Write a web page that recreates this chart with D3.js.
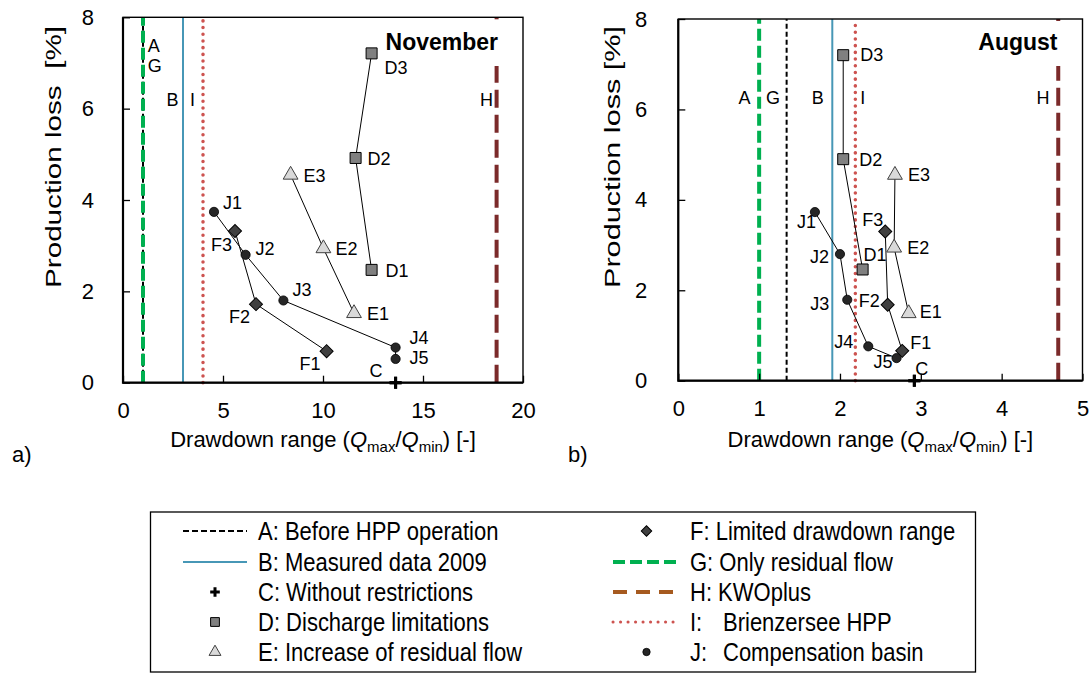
<!DOCTYPE html>
<head>
    <meta charset="utf-8">
    <title>Production loss vs drawdown range</title>
    <script src="https://d3js.org/d3.v7.min.js"></script>
    <style>
        body{ margin: 0; background: #fff; }
        text{ font-family: "Liberation Sans", Arial, sans-serif; fill: #000; }
        .tick text{ font-size: 22px; }
        .tick line{ stroke: #000; stroke-width: 1.3; }
        path.domain{ display: none; }
        text.ptLabel, text.lineLabel{ font-size: 18px; }
        text.panelTitle{ font-size: 23px; font-weight: 700; }
        text.axisTitle, text.legendText, text.tag{ font-size: 22px; }
    </style>
</head>
<body>
<script>
    // November (a)
    const novD = [{id:'D1', x:12.43, y:2.47}, {id:'D2', x:11.63, y:4.92}, {id:'D3', x:12.43, y:7.21}];
    const novE = [{id:'E1', x:11.55, y:1.52}, {id:'E2', x:10.02, y:2.94}, {id:'E3', x:8.38, y:4.55}];
    const novF = [{id:'F1', x:10.18, y:0.69}, {id:'F2', x:6.65, y:1.72}, {id:'F3', x:5.6, y:3.32}];
    const novJ = [{id:'J1', x:4.55, y:3.74}, {id:'J2', x:6.13, y:2.80}, {id:'J3', x:8.02, y:1.80},
                  {id:'J4', x:13.63, y:0.77}, {id:'J5', x:13.63, y:0.52}];
    const novC = [{id:'C', x:13.63, y:0}];
    const novLines = {A:1.0, B:3.0, G:1.0, H:18.68, I:4.0};

    // August (b)
    const augD = [{id:'D1', x:2.28, y:2.46}, {id:'D2', x:2.04, y:4.9}, {id:'D3', x:2.04, y:7.2}];
    const augE = [{id:'E1', x:2.85, y:1.49}, {id:'E2', x:2.67, y:2.94}, {id:'E3', x:2.68, y:4.55}];
    const augF = [{id:'F1', x:2.77, y:0.66}, {id:'F2', x:2.59, y:1.68}, {id:'F3', x:2.56, y:3.3}];
    const augJ = [{id:'J1', x:1.69, y:3.73}, {id:'J2', x:2.0, y:2.8}, {id:'J3', x:2.09, y:1.79},
                  {id:'J4', x:2.35, y:0.76}, {id:'J5', x:2.70, y:0.5}];
    const augC = [{id:'C', x:2.92, y:0}];
    const augLines = {A:1.34, B:1.905, G:1.0, H:4.70, I:2.19};

    const novXTicks = [0, 5, 10, 15, 20];
    const augXTicks = [0, 1, 2, 3, 4, 5];
    const yTicks = [0, 2, 4, 6, 8];

    const legendLeft = [
        {key:'A', text:'A: Before HPP operation'},
        {key:'B', text:'B: Measured data 2009'},
        {key:'C', text:'C: Without restrictions'},
        {key:'D', text:'D: Discharge limitations'},
        {key:'E', text:'E: Increase of residual flow'}
    ];
    const legendRight = [
        {key:'F', text:'F: Limited drawdown range'},
        {key:'G', text:'G: Only residual flow'},
        {key:'H', text:'H: KWOplus'},
        {key:'I', text:['I:', 'Brienzersee HPP']},
        {key:'J', text:['J:', 'Compensation basin']}
    ];

    // label placement (pixel offsets from the marker)
    const novLabelOff = {
        D3:[13,21], D2:[12,7], D1:[14,7], E3:[13,7], E2:[12,7], E1:[13,7],
        J1:[9,-3], F3:[-24,20], J2:[10,0], J3:[9,-4], F2:[-27,19],
        J4:[14,-4], J5:[14,5], F1:[-27,19], C:[-26,-6]
    };
    const augLabelOff = {
        D3:[17,6], D2:[16,7], D1:[1,-8], E3:[13,6], E2:[13,6], E1:[11,5],
        F3:[-23,-5], F2:[-29,2], F1:[8,-2], J1:[-18,16], J2:[-30,9],
        J3:[-37,10], J4:[-34,2], J5:[-23,10], C:[1,-6]
    };
    // vertical line letters: [x in data units, baseline px]
    const novLineLabels = {A:[1.24,51.7], G:[1.24,71.7], B:[2.18,106], I:[3.35,106], H:[17.85,106]};
    const augLineLabels = {A:[0.745,104], G:[1.085,104], B:[1.65,104], I:[2.25,104], H:[4.43,104]};

    const lineStyle = {
        A: {stroke:'#000000', width:2, dash:'5,3'},
        B: {stroke:'#4797b6', width:2, dash:null},
        I: {stroke:'#cd5350', width:3.5, dash:'0.1,6.6', cap:'round'},
        H: {stroke:'#7b2a2a', width:4, dash:'18,7'},
        G: {stroke:'#00b050', width:4, dash:'12,5'}
    };
    const lineOrder = ['A', 'B', 'I', 'H', 'G'];

    const panels = [
        {title:'November', tag:'a)', tagX:12, D:novD, E:novE, F:novF, J:novJ, C:novC,
         lines:novLines, lineLabels:novLineLabels, off:novLabelOff,
         xDomain:[0,20], xTicks:novXTicks, left:123, right:523, top:17.3, bottom:382.7,
         yLabelX:53, yPad:29, ytitle:'Production loss  [%]'},
        {title:'August', tag:'b)', tagX:568, D:augD, E:augE, F:augF, J:augJ, C:augC,
         lines:augLines, lineLabels:augLineLabels, off:augLabelOff,
         xDomain:[0,5], xTicks:augXTicks, left:678.3, right:1082.5, top:19, bottom:380.7,
         yLabelX:612, yPad:31, ytitle:'Production loss [%]'}
    ];

    const svg = d3.select('body').append('svg')
        .attr('width', 1092)
        .attr('height', 673);

    const plus = 'M-6,0H6M0,-6V6';

    function marker(sel, type, s) {
        // s = scale for legend markers
        if (type === 'D') {
            sel.append('path').attr('d', d3.symbol(d3.symbolSquare, 121*s*s)())
                .style('fill', '#808080').style('stroke', '#000').style('stroke-width', 1);
        } else if (type === 'E') {
            sel.append('path').attr('d', d3.symbol(d3.symbolTriangle, 95*s*s)())
                .style('fill', '#d9d9d9').style('stroke', '#404040').style('stroke-width', 1);
        } else if (type === 'F') {
            sel.append('path').attr('d', d3.symbol(d3.symbolSquare, 85*s*s)())
                .attr('transform', 'rotate(45)')
                .style('fill', '#404040').style('stroke', '#000').style('stroke-width', 1);
        } else if (type === 'J') {
            sel.append('circle').attr('r', 4.6*s)
                .style('fill', '#262626').style('stroke', '#000').style('stroke-width', 0.8);
        } else if (type === 'C') {
            sel.append('path').attr('d', plus).attr('transform', `scale(${s})`)
                .style('stroke', '#000').style('stroke-width', 3/s).style('fill', 'none');
        }
    }

    panels.forEach(p => {
        const x = d3.scaleLinear().domain(p.xDomain).range([p.left, p.right]);
        const y = d3.scaleLinear().domain([0, 8]).range([p.bottom, p.top]);
        const g = svg.append('g');

        // vertical reference lines, drawn bottom-up
        lineOrder.forEach(k => {
            const s = lineStyle[k];
            g.append('line')
                .attr('x1', x(p.lines[k])).attr('x2', x(p.lines[k]))
                .attr('y1', y(0)).attr('y2', y(8))
                .style('stroke', s.stroke)
                .style('stroke-width', s.width)
                .style('stroke-dasharray', s.dash)
                .style('stroke-linecap', s.cap || 'butt');
        });

        // title with its white box (hides top of H line)
        const title = g.append('text')
            .attr('class', 'panelTitle')
            .attr('x', x(p.xDomain[1]) - 25)
            .attr('y', 50)
            .style('text-anchor', 'end')
            .text(p.title);
        const bb = title.node().getBBox();
        g.insert('rect', '.panelTitle')
            .attr('x', bb.x - 4).attr('y', p.top + 2)
            .attr('width', bb.width + 14).attr('height', 64 - p.top)
            .style('fill', '#fff');

        // line letters
        Object.keys(p.lineLabels).forEach(k => {
            g.append('text')
                .attr('class', 'lineLabel')
                .attr('x', x(p.lineLabels[k][0]))
                .attr('y', p.lineLabels[k][1])
                .text(k);
        });

        // connecting lines
        const line = d3.line().x(d => x(d.x)).y(d => y(d.y));
        ['D', 'E', 'F', 'J'].forEach(k => {
            g.append('path')
                .attr('d', line(p[k]))
                .style('fill', 'none')
                .style('stroke', '#000')
                .style('stroke-width', 1);
        });

        // markers + labels
        ['D', 'E', 'F', 'J', 'C'].forEach(k => {
            p[k].forEach(d => {
                const m = g.append('g').attr('transform', `translate(${x(d.x)},${y(d.y)})`);
                marker(m, k, 1);
                const o = p.off[d.id];
                g.append('text')
                    .attr('class', 'ptLabel')
                    .attr('x', x(d.x) + o[0])
                    .attr('y', y(d.y) + o[1])
                    .text(d.id);
            });
        });

        // axes (ticks inside)
        g.append('g')
            .attr('transform', `translate(0,${p.bottom})`)
            .call(d3.axisBottom(x).tickValues(p.xTicks).tickFormat(d3.format('d'))
                .tickSizeInner(-7).tickSizeOuter(0).tickPadding(20));
        g.append('g')
            .attr('transform', `translate(${p.left},0)`)
            .call(d3.axisLeft(y).tickValues(yTicks).tickFormat(d3.format('d'))
                .tickSizeInner(-7).tickSizeOuter(0).tickPadding(p.yPad));
        g.selectAll('.tick text').style('font-family', '"Liberation Sans", Arial, sans-serif').style('fill', '#000');

        // frame
        g.append('rect')
            .attr('x', p.left).attr('y', p.top)
            .attr('width', p.right - p.left).attr('height', p.bottom - p.top)
            .style('fill', 'none').style('stroke', '#000').style('stroke-width', 1.4);
        g.append('path')
            .attr('d', `M${p.left},${p.top}V${p.bottom}H${p.right}`)
            .style('fill', 'none').style('stroke', '#000').style('stroke-width', 2.2);

        // C marker drawn on top of the axis
        p.C.forEach(d => {
            const m = g.append('g').attr('transform', `translate(${x(d.x)},${y(d.y)})`);
            marker(m, 'C', 1);
        });

        // axis titles
        g.append('text')
            .attr('class', 'axisTitle')
            .attr('transform', `translate(${p.yLabelX},157) rotate(-90)`)
            .attr('dy', '0.35em')
            .attr('textLength', 262)
            .attr('lengthAdjust', 'spacingAndGlyphs')
            .style('text-anchor', 'middle')
            .style('white-space', 'pre')
            .text(p.ytitle);

        const xt = g.append('text')
            .attr('class', 'axisTitle')
            .attr('x', (p.left + p.right) / 2)
            .attr('y', 447)
            .style('text-anchor', 'middle');
        xt.append('tspan').text('Drawdown range (');
        xt.append('tspan').style('font-style', 'italic').text('Q');
        xt.append('tspan').attr('dy', 5).style('font-size', '15px').text('max');
        xt.append('tspan').attr('dy', -5).text('/');
        xt.append('tspan').style('font-style', 'italic').text('Q');
        xt.append('tspan').attr('dy', 5).style('font-size', '15px').text('min');
        xt.append('tspan').attr('dy', -5).text(') [-]');

        svg.append('text')
            .attr('class', 'tag')
            .attr('x', p.tagX)
            .attr('y', 462)
            .text(p.tag);
    });

    // legend
    const legendRows = [531, 562, 592, 622, 652];
    const lg = svg.append('g');
    lg.append('rect')
        .attr('x', 150.5).attr('y', 512)
        .attr('width', 825).attr('height', 160)
        .style('fill', '#fff').style('stroke', '#000').style('stroke-width', 1.3);

    const legendLineStyle = Object.assign({}, lineStyle, {
        A: {stroke:'#000', width:2, dash:'6,3'},
        H: {stroke:'#a65a1f', width:4, dash:'14,9'},
        I: {stroke:'#cd5350', width:3, dash:'0.1,7.4', cap:'round'}
    });

    // legend text is a little taller than wide in the original
    function legendText(x, cy, str) {
        lg.append('text')
            .attr('class', 'legendText')
            .attr('transform', `translate(${x},${cy}) scale(1,1.13)`)
            .attr('dy', '0.36em')
            .text(str);
    }

    function legendColumn(items, x0, x1, textX, textX2) {
        items.forEach((it, i) => {
            const cy = legendRows[i];
            if (legendLineStyle[it.key]) {
                const s = legendLineStyle[it.key];
                lg.append('line')
                    .attr('x1', x0).attr('x2', x1).attr('y1', cy).attr('y2', cy)
                    .style('stroke', s.stroke).style('stroke-width', s.width)
                    .style('stroke-dasharray', s.dash).style('stroke-linecap', s.cap || 'butt');
            } else {
                const m = lg.append('g').attr('transform', `translate(${(x0 + x1) / 2},${cy})`);
                marker(m, it.key, 0.8);
            }
            if (Array.isArray(it.text)) {
                legendText(textX, cy, it.text[0]);
                legendText(textX2, cy, it.text[1]);
            } else {
                legendText(textX, cy, it.text);
            }
        });
    }
    legendColumn(legendLeft, 183, 247, 258, 258);
    legendColumn(legendRight, 613, 680, 690, 723);
</script>
</body>
